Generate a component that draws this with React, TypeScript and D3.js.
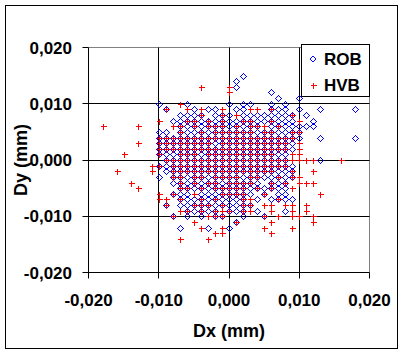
import React from "react";
import * as d3 from "d3";

// values in micrometres (x 0.001 mm): [dy, dx list]
const robRows: [number, number[]][] = [
  [15, [2]],
  [14, [1]],
  [13, [1]],
  [12, [6]],
  [11, [7, 10]],
  [10, [-10, -6, 0, 2, 3, 6, 8]],
  [9, [-9, -5, -3, -2, 1, 2, 6, 7, 8, 10, 13, 18]],
  [8, [-7, -6, -5, -4, -2, -1, 0, 2, 3, 4, 5, 6, 7, 8, 9, 11]],
  [7, [-8, -7, -6, -5, -4, -3, -2, -1, 0, 1, 2, 3, 4, 5, 6, 7, 8, 9, 12]],
  [6, [-7, -6, -5, -4, -3, -2, -1, 0, 1, 2, 3, 4, 6, 7, 8, 9, 10, 11, 12]],
  [5, [-10, -9, -7, -6, -5, -4, -3, -2, -1, 0, 1, 2, 3, 4, 5, 6, 7, 8, 9, 10]],
  [4, [-10, -9, -8, -7, -6, -5, -4, -3, -2, -1, 0, 1, 2, 3, 4, 5, 6, 7, 8, 9, 10, 13, 18]],
  [3, [-10, -9, -8, -7, -6, -5, -4, -3, -2, -1, 0, 1, 2, 3, 4, 5, 6, 7, 8, 9]],
  [2, [-10, -9, -8, -7, -6, -5, -4, -3, -2, -1, 0, 1, 2, 3, 4, 5, 6, 7, 8, 9]],
  [1, [-10, -9, -8, -7, -6, -5, -4, -3, -2, -1, 0, 1, 2, 3, 4, 5, 6, 7, 8]],
  [0, [-9, -8, -7, -6, -5, -4, -3, -2, -1, 0, 1, 2, 3, 4, 5, 6, 7, 8, 13]],
  [-1, [-10, -9, -8, -7, -6, -5, -4, -3, -2, -1, 0, 1, 2, 3, 4, 5, 6, 7, 8, 9]],
  [-2, [-9, -8, -7, -6, -5, -4, -3, -2, -1, 0, 1, 2, 3, 4, 5, 6, 7, 8, 9]],
  [-3, [-10, -8, -7, -6, -5, -4, -3, -2, -1, 0, 1, 2, 3, 4, 5, 6, 7, 8, 9]],
  [-4, [-8, -7, -6, -5, -4, -3, -2, -1, 0, 1, 2, 3, 4, 6, 7, 8]],
  [-5, [-7, -6, -5, -4, -3, -2, -1, 0, 1, 2, 3, 4, 5, 6, 7, 8]],
  [-6, [-8, -7, -6, -4, -3, -2, -1, 0, 1, 2, 3, 5, 7, 8]],
  [-7, [-7, -6, -5, -4, -3, -2, -1, 0, 1, 2, 4, 6, 7, 8, 9]],
  [-8, [-9, -7, -6, -5, -4, -3, -2, -1, 0, 1, 2, 3]],
  [-9, [-6, -5, -4, -3, -2, 0, 1, 2, 4, 8]],
  [-10, [-8, -6, -4, -2, -1, 2, 5]],
  [-11, [1]],
  [-12, [-7, -3, 0]],
];

const hvbRows: [number, number[]][] = [
  [13, [-4, 0]],
  [12, [0]],
  [10, [-7]],
  [9, [-9, -6, -4, -1, 3, 4, 6]],
  [8, [-4, -1, 1, 9]],
  [7, [-10, -6, -5, -3, -1, 2, 3, 6, 10]],
  [6, [-18, -13, -8, -7, -5, -3, -2, -1, 1, 3, 4, 5, 7]],
  [5, [-7, -4, -2, -1, 0, 1, 2, 3, 5, 6, 9, 10]],
  [4, [-10, -9, -8, -7, -6, -5, -4, -3, -2, -1, 0, 1, 2, 3, 4, 5, 6, 7, 8, 9]],
  [3, [-13, -10, -9, -8, -7, -6, -5, -4, -3, -1, 0, 1, 2, 3, 4, 5, 6, 7, 8, 10]],
  [2, [-10, -9, -8, -7, -6, -5, -4, -3, -2, -1, 0, 1, 2, 3, 4, 5, 6, 7, 8, 10]],
  [1, [-15, -10, -7, -6, -5, -3, -2, -1, 0, 1, 2, 3, 4, 5, 6, 9, 10]],
  [0, [-9, -8, -7, -6, -5, -4, -3, -2, -1, 0, 1, 2, 3, 4, 5, 6, 7, 8, 9, 10, 11, 12, 16]],
  [-1, [-11, -10, -8, -7, -6, -5, -4, -3, -2, -1, 0, 1, 2, 3, 4, 5, 6, 7, 8]],
  [-2, [-16, -11, -8, -7, -6, -5, -4, -3, -2, -1, 0, 1, 2, 3, 4, 5, 6, 9, 12]],
  [-3, [-8, -7, -5, -4, -2, -1, 0, 1, 3, 4, 7, 9, 10]],
  [-4, [-14, -7, -5, -3, -2, 0, 1, 2, 3, 6, 8, 10, 11, 12]],
  [-5, [-13, -7, -6, -4, -2, -1, 0, 1, 2, 4, 6, 9]],
  [-6, [-10, -8, -5, -1, 0, 1, 2, 5, 13]],
  [-7, [-10, -9, -7, -4, -2, 2, 3, 7]],
  [-8, [-9, -5, -4, -3, -1, 2, 3, 5, 6, 8, 9, 11]],
  [-9, [-7, -6, -4, -2, -1, 0, 2, 3, 6, 9, 11]],
  [-10, [-8, -3, -2, -1, 5, 7, 9, 10, 12]],
  [-11, [-5, 1, 6, 12]],
  [-12, [-4, -1, 5, 9]],
  [-13, [-2, -1, 6]],
  [-14, [-7, -3]],
];

const ticks = [-0.02, -0.01, 0, 0.01, 0.02];
const seriesNames = ["ROB", "HVB"];

const toPoints = (rows: [number, number[]][]) =>
  rows.flatMap(([dy, xs]) => xs.map((dx) => ({ x: dx / 1000, y: dy / 1000 })));

const fmt = (v: number) => {
  const s = Math.abs(v).toFixed(3).replace(".", ",");
  return v < -1e-9 ? "-" + s : s;
};

export default function App() {
  const x = d3.scaleLinear().domain([-0.02, 0.02]).range([88.5, 369.5]);
  const y = d3.scaleLinear().domain([-0.02, 0.02]).range([272.5, 47.5]);
  const rob = toPoints(robRows);
  const hvb = toPoints(hvbRows);
  const font = "'Liberation Sans', Arial, sans-serif";
  const snap = (v: number) => Math.round(v - 0.5) + 0.5;
  const diamond = (cx: number, cy: number, r = 3) =>
    `M${cx},${cy - r}L${cx + r},${cy}L${cx},${cy + r}L${cx - r},${cy}Z`;
  const plus = (cx: number, cy: number, r = 3) =>
    `M${cx - r},${cy}H${cx + r}M${cx},${cy - r}V${cy + r}`;

  return (
    <svg
      width={404}
      height={355}
      style={{ position: "absolute", left: 0, top: 0, background: "#fff" }}
      fontFamily={font}
    >
      <rect x={0} y={0} width={404} height={355} fill="#fff" />
      <rect x={5.5} y={5.5} width={392} height={343} fill="#fff" stroke="#000" />
      {/* plot frame */}
      <line x1={x(-0.02)} x2={x(0.02)} y1={snap(y(0.02))} y2={snap(y(0.02))} stroke="#808080" />
      <line x1={snap(x(0.02))} x2={snap(x(0.02))} y1={y(0.02)} y2={y(-0.02)} stroke="#808080" />
      {/* gridlines */}
      {ticks.slice(1, 4).map((t) => (
        <line key={"gx" + t} x1={snap(x(t))} x2={snap(x(t))} y1={y(0.02)} y2={y(-0.02)} stroke="#000" />
      ))}
      {ticks.slice(1, 4).map((t) => (
        <line key={"gy" + t} x1={x(-0.02)} x2={x(0.02)} y1={snap(y(t))} y2={snap(y(t))} stroke="#000" />
      ))}
      {/* axes */}
      <line x1={snap(x(-0.02))} x2={snap(x(-0.02))} y1={y(0.02)} y2={y(-0.02) + 0.5} stroke="#000" />
      <line x1={x(-0.02)} x2={x(0.02)} y1={snap(y(-0.02))} y2={snap(y(-0.02))} stroke="#000" />
      {ticks.map((t) => (
        <line key={"ty" + t} x1={x(-0.02) - 6} x2={x(-0.02)} y1={snap(y(t))} y2={snap(y(t))} stroke="#000" />
      ))}
      {ticks.map((t) => (
        <line key={"tx" + t} x1={snap(x(t))} x2={snap(x(t))} y1={y(-0.02)} y2={y(-0.02) + 6} stroke="#000" />
      ))}
      {ticks.map((t) => (
        <text key={"ly" + t} x={72} y={y(t)} dy="0.36em" textAnchor="end" fontSize={17} fontWeight="bold">
          {fmt(t)}
        </text>
      ))}
      {ticks.map((t) => (
        <text key={"lx" + t} x={x(t)} y={306} textAnchor="middle" fontSize={17} fontWeight="bold">
          {fmt(t)}
        </text>
      ))}
      <text x={229} y={337} textAnchor="middle" fontSize={18} fontWeight="bold">
        Dx (mm)
      </text>
      <text
        transform={`translate(27,${y(0)}) rotate(-90)`}
        textAnchor="middle"
        fontSize={18}
        fontWeight="bold"
      >
        Dy (mm)
      </text>
      {/* data */}
      <g fill="none" stroke="#0000ff" strokeWidth={1} shapeRendering="crispEdges">
        {rob.map((p, i) => (
          <path key={"r" + i} d={diamond(Math.round(x(p.x)) + 0.5, Math.round(y(p.y)) + 0.5)} />
        ))}
      </g>
      <g fill="none" stroke="#ff0000" strokeWidth={1} shapeRendering="crispEdges">
        {hvb.map((p, i) => (
          <path key={"h" + i} d={plus(Math.round(x(p.x)) + 0.5, Math.round(y(p.y)) + 0.5)} />
        ))}
      </g>
      {/* legend */}
      <rect x={301.5} y={44.5} width={68} height={52} fill="#fff" stroke="#000" />
      <path d={diamond(313, 59)} fill="none" stroke="#0000ff" shapeRendering="crispEdges" />
      <text x={324} y={65} fontSize={17} fontWeight="bold">
        {seriesNames[0]}
      </text>
      <path d={plus(313.5, 85.5)} fill="none" stroke="#ff0000" shapeRendering="crispEdges" />
      <text x={324} y={91} fontSize={17} fontWeight="bold">
        {seriesNames[1]}
      </text>
    </svg>
  );
}
